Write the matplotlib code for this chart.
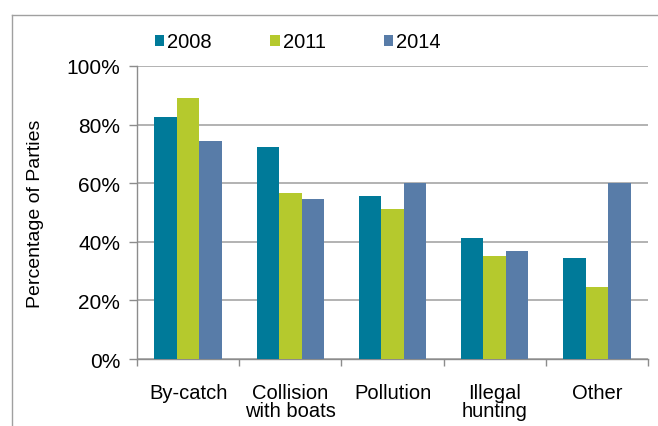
import matplotlib
matplotlib.use("Agg")
import matplotlib.pyplot as plt
import numpy as np
from matplotlib.lines import Line2D
from matplotlib.patches import Patch

categories = ["By-catch", "Collision\nwith boats", "Pollution", "Illegal\nhunting", "Other"]
years = ["2008", "2011", "2014"]
v2008 = [82.6, 72.5, 55.5, 41.4, 34.5]
v2011 = [89.0, 56.8, 51.3, 35.0, 24.5]
v2014 = [74.3, 54.5, 60.0, 36.8, 60.0]
colors = ["#007A99", "#B5C92D", "#587CA8"]

plt.rcParams['font.family'] = ['Liberation Sans', 'DejaVu Sans']

fig = plt.figure(figsize=(6.58, 4.27), dpi=100)
ax = fig.add_axes([137/658, 1-360/427, (648-137)/658, (360-67)/427])

x = np.arange(len(categories))
w = 0.22
series = [v2008, v2011, v2014]
for i, (vals, c, lab) in enumerate(zip(series, colors, years)):
    ax.bar(x + (i-1)*w, vals, width=w, color=c, label=lab, zorder=3,
           edgecolor='none')

ax.set_xlim(-0.5, len(categories)-0.5)
ax.set_ylim(0, 100)
ax.set_yticks(np.arange(0, 101, 20))
ax.set_yticklabels([f"{v}%" for v in range(0, 101, 20)], fontsize=15)
ax.set_xticks(x)
ax.set_xticklabels(categories, fontsize=14.5, linespacing=0.95)
ax.tick_params(axis='x', length=0, pad=17)
ax.set_xticks(np.arange(-0.5, len(categories), 1), minor=True)
ax.tick_params(axis='x', which='minor', length=5, color='#8c8c8c', width=1)
ax.tick_params(axis='y', length=6, color='#8c8c8c', width=1, pad=6)
ax.yaxis.grid(True, color='#a6a6a6', linewidth=1.2, zorder=0)
ax.set_axisbelow(True)
for s in ['top', 'right']:
    ax.spines[s].set_visible(False)
for s in ['left', 'bottom']:
    ax.spines[s].set_color('#8c8c8c')
    ax.spines[s].set_linewidth(1)
ax.set_ylabel("Percentage of Parties", fontsize=14)
ax.yaxis.set_label_coords((44-137)/511, 0.5)

handles = [Patch(facecolor=c, edgecolor='none') for c in colors]
fig.legend(handles, years, loc='center', bbox_to_anchor=(298/658, 1-43/427),
           ncol=3, frameon=False, fontsize=14.5, handlelength=0.45,
           handleheight=0.45, handletextpad=0.15, columnspacing=2.9,
           borderpad=0, borderaxespad=0)

# outer frame
fig.add_artist(Line2D([12/658, 12/658], [0, 1-16/427], transform=fig.transFigure,
                      color='#a0a0a0', linewidth=1))
fig.add_artist(Line2D([12/658, 1], [1-16/427, 1-16/427], transform=fig.transFigure,
                      color='#a0a0a0', linewidth=1))

fig.savefig("out.png", dpi=100)
